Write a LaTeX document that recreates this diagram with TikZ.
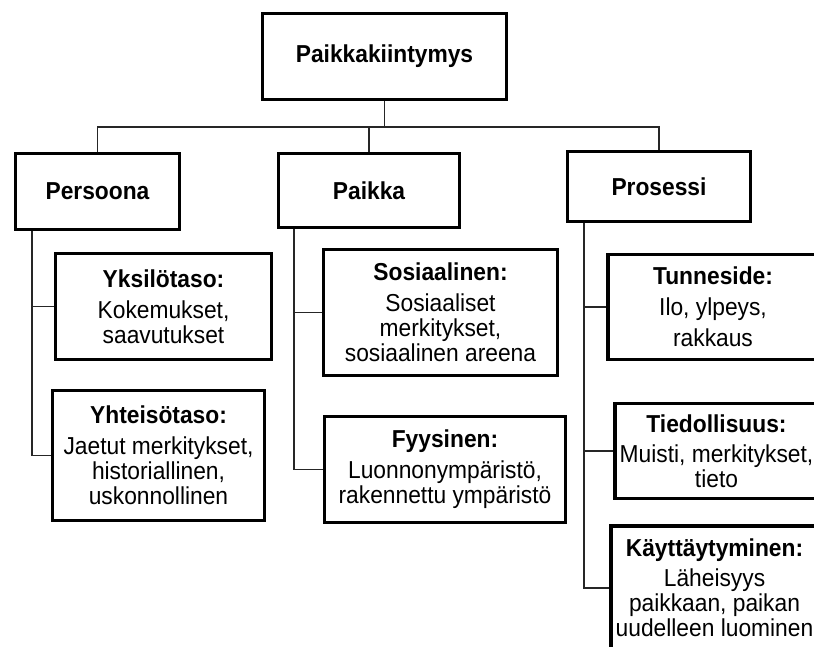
\documentclass[tikz,border=0pt]{standalone}
\usepackage{fontspec}
\setmainfont{Liberation Sans}[FakeStretch=0.93]
\begin{document}
\begin{tikzpicture}[x=1pt,y=-1pt,
  box/.style={draw=black, line width=3.5pt, inner sep=0pt, align=center,
    font=\fontsize{24.5}{25}\selectfont},
  head/.style={box, font=\fontsize{24.5}{25}\selectfont\bfseries},
  link/.style={draw=black!85, line width=1.6pt}]
\useasboundingbox (0,0) rectangle (814,646);
% top level
\node [head, minimum width=244pt, minimum height=86pt] (root) at (384.5,56.5) {Paikkakiintymys};
\node [head, minimum width=164pt, minimum height=76pt] (persoona) at (97.5,191.5) {Persoona};
\node [head, minimum width=181pt, minimum height=74pt] (paikka) at (369,190.5) {Paikka};
\node [head, minimum width=183pt, minimum height=70pt] (prosessi) at (659,186.5) {Prosessi};
% Persoona
\node [box, minimum width=216pt, minimum height=106pt] (yksilo) at (163.5,306.5)
  {\textbf{Yksilötaso:}\\[6pt]Kokemukset,\\saavutukset};
\node [box, minimum width=212pt, minimum height=130pt] (yhteiso) at (158.5,455.5)
  {\textbf{Yhteisötaso:}\\[6pt]Jaetut merkitykset,\\historiallinen,\\uskonnollinen};
% Paikka
\node [box, minimum width=234pt, minimum height=126pt] (sosiaal) at (440.5,312.5)
  {\textbf{Sosiaalinen:}\\[6pt]Sosiaaliset\\merkitykset,\\sosiaalinen areena};
\node [box, minimum width=241pt, minimum height=106pt] (fyysinen) at (445,469.5)
  {\textbf{Fyysinen:}\\[6pt]Luonnonympäristö,\\rakennettu ympäristö};
% Prosessi
\node [box, minimum width=210pt, minimum height=105pt] (tunne) at (713,307)
  {\textbf{Tunneside:}\\[6pt]Ilo, ylpeys,\\[6pt]rakkaus};
\node [box, minimum width=203pt, minimum height=95pt] (tiedoll) at (716.5,451)
  {\textbf{Tiedollisuus:}\\[5pt]Muisti, merkitykset,\\tieto};
\node [box, minimum width=207pt, minimum height=124pt] (kaytt) at (714.5,588)
  {\textbf{Käyttäytyminen:}\\[5pt]Läheisyys\\paikkaan, paikan\\uudelleen luominen};
% connectors
\draw [link] (root.south) -- ++(0,26) -| (persoona.north);
\draw [link] (root.south) -- ++(0,26) -| (paikka.north);
\draw [link] (root.south) -- ++(0,26) -| (prosessi.north);
\coordinate (persoonaTrunk) at ([xshift=18pt]persoona.south west);
\coordinate (paikkaTrunk) at ([xshift=17.5pt]paikka.south west);
\coordinate (prosessiTrunk) at ([xshift=18.5pt]prosessi.south west);
\draw [link] (persoonaTrunk) |- (yksilo.west);
\draw [link] (persoonaTrunk) |- (yhteiso.west);
\draw [link] (paikkaTrunk) |- (sosiaal.west);
\draw [link] (paikkaTrunk) |- (fyysinen.west);
\draw [link] (prosessiTrunk) |- (tunne.west);
\draw [link] (prosessiTrunk) |- (tiedoll.west);
\draw [link] (prosessiTrunk) |- (kaytt.west);
\end{tikzpicture}
\end{document}
